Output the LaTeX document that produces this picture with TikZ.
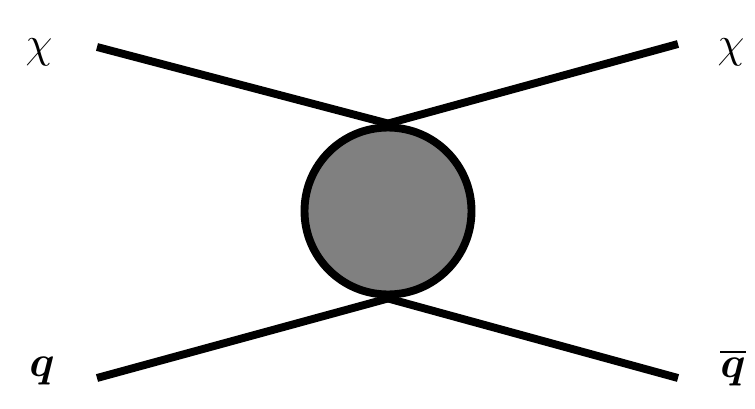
\documentclass[tikz,border=0pt]{standalone}
\usepackage{amsmath}
\tikzset{
    leg/.style={line width=4.5pt},
    lbl/.style={font=\fontsize{46}{52}\selectfont, inner sep=0pt}
}
\begin{document}
\begin{tikzpicture}
    	\useasboundingbox (0,0) rectangle (15.1,8.16);
    	\node[circle, draw, line width=4.5pt, fill=black!50, inner sep=0pt, minimum size=3.34cm] (blob) at (7.76,3.94){};
    	
    	\coordinate (inL) at (1.94,7.22);
    	\coordinate (outR) at (13.56,7.28);
    	\coordinate (qL) at (1.94,0.6);
    	\coordinate (qR) at (13.56,0.6);
    	
    	\draw[leg] (inL) -- (blob.north);
    	\draw[leg] (blob.north) -- (outR);
    	\draw[leg] (qL) -- (blob.south);
    	\draw[leg] (blob.south) -- (qR);
    	
    	\node[lbl] (chiIn) at (0.78,7.12){$\chi$};
    	\node[lbl] (chiOut) at (14.62,7.12){$\chi$};
    	\node[lbl] (qIn) at (0.84,0.74){$\boldsymbol{q}$};
    	\node[lbl] (qOut) at (14.66,0.80){$\overline{\boldsymbol{q}}$};
\end{tikzpicture}
\end{document}
